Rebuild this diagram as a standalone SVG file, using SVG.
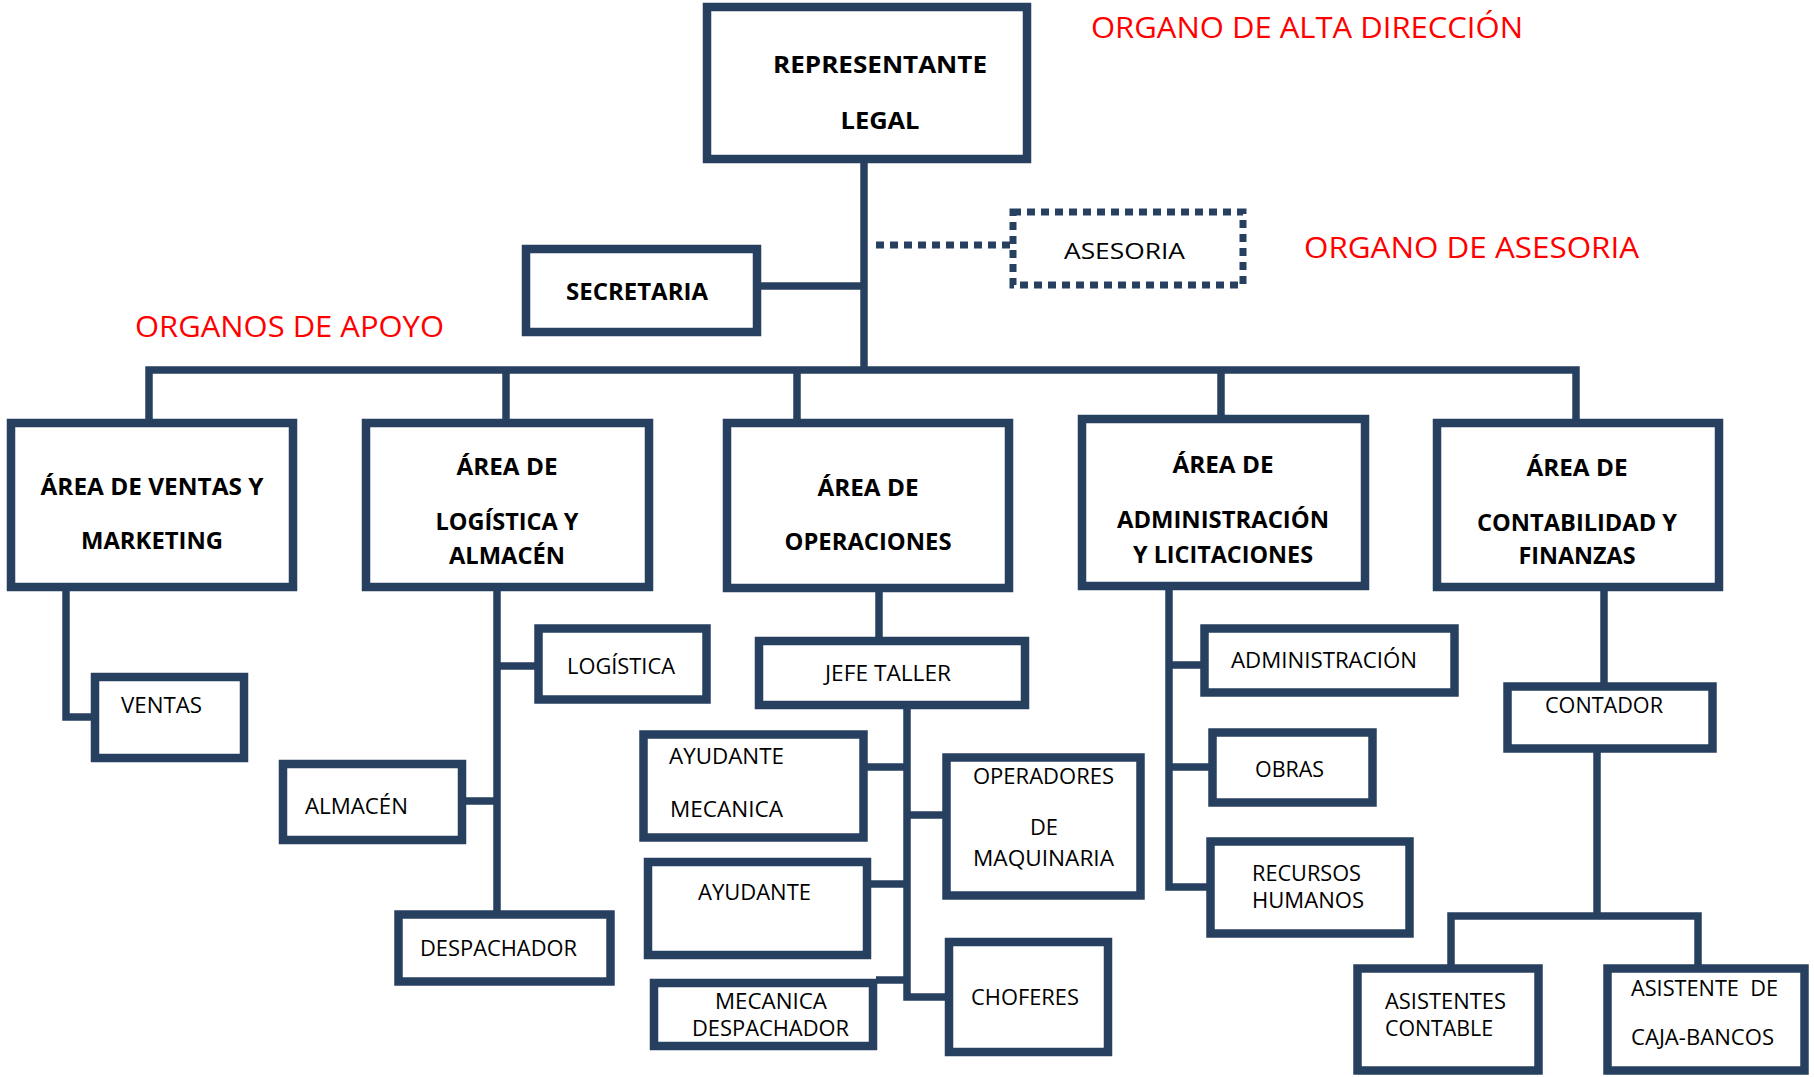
<svg xmlns="http://www.w3.org/2000/svg" width="1814" height="1077" viewBox="0 0 1814 1077">
<style>
.box{fill:#fff;stroke:#27405f;stroke-width:8.5}
.dbox{fill:#fff;stroke:#27405f;stroke-width:7;stroke-dasharray:8 6}
.c{fill:none;stroke:#27405f;stroke-width:7.5}
.d{fill:none;stroke:#27405f;stroke-width:7;stroke-dasharray:8 6}
.b{font-family:"Open Sans","Noto Sans",sans-serif;font-weight:bold;font-size:23px;fill:#000;text-anchor:middle}
.t{font-family:"Open Sans","Noto Sans",sans-serif;font-size:21px;fill:#000}
.r{font-family:"Open Sans","Noto Sans",sans-serif;font-size:29px;fill:#ff0000}
</style>
<rect width="1814" height="1077" fill="#fff"/>
<g id="connectors">
<path class="c" d="M864 163V370"/>
<path class="c" d="M761 286H864"/>
<path class="d" d="M876 245H1010"/>
<path class="c" d="M149 419V370H1576V419" stroke-width="10"/>
<path class="c" d="M506 370V419M797 370V419M1221 370V415"/>
<path class="c" d="M66 591V717H95"/>
<path class="c" d="M497 591V911M497 666H535M465 801H497"/>
<path class="c" d="M879 592V637"/>
<path class="c" d="M907 708V997H945M867 767H907M907 815H943M870 884H907M876 980H907"/>
<path class="c" d="M1169 590V887H1210M1169 665H1201M1169 767H1209"/>
<path class="c" d="M1604 591V683"/>
<path class="c" d="M1597 752V916"/>
<path class="c" d="M1451 965V916H1698V965"/>
</g>
<g id="labels">
<text class="r" x="1091" y="38" textLength="432" lengthAdjust="spacingAndGlyphs">ORGANO DE ALTA DIRECCIÓN</text>
<text class="r" x="1304" y="258" textLength="335" lengthAdjust="spacingAndGlyphs">ORGANO DE ASESORIA</text>
<text class="r" x="135" y="337" textLength="309" lengthAdjust="spacingAndGlyphs">ORGANOS DE APOYO</text>
</g>
<g id="representante">
<rect class="box" x="707" y="7" width="320" height="152"/>
<text class="b" x="880" y="73" textLength="214" lengthAdjust="spacingAndGlyphs">REPRESENTANTE</text>
<text class="b" x="880" y="129" textLength="79" lengthAdjust="spacingAndGlyphs">LEGAL</text>
</g>
<g id="asesoria">
<rect class="dbox" x="1013" y="212" width="230" height="73"/>
<text class="t" x="1064" y="259" textLength="121" lengthAdjust="spacingAndGlyphs">ASESORIA</text>
</g>
<g id="secretaria">
<rect class="box" x="526" y="249" width="231" height="83"/>
<text class="b" x="637" y="300" textLength="142" lengthAdjust="spacingAndGlyphs">SECRETARIA</text>
</g>
<g id="area-ventas">
<rect class="box" x="11" y="423" width="282" height="164"/>
<text class="b" x="152" y="495" textLength="223" lengthAdjust="spacingAndGlyphs">ÁREA DE VENTAS Y</text>
<text class="b" x="152" y="549" textLength="142" lengthAdjust="spacingAndGlyphs">MARKETING</text>
</g>
<g id="area-logistica">
<rect class="box" x="366" y="423" width="283" height="164"/>
<text class="b" x="507" y="475" textLength="101" lengthAdjust="spacingAndGlyphs">ÁREA DE</text>
<text class="b" x="507" y="530" textLength="143" lengthAdjust="spacingAndGlyphs">LOGÍSTICA Y</text>
<text class="b" x="507" y="564" textLength="116" lengthAdjust="spacingAndGlyphs">ALMACÉN</text>
</g>
<g id="area-operaciones">
<rect class="box" x="727" y="423" width="282" height="165"/>
<text class="b" x="868" y="496" textLength="101" lengthAdjust="spacingAndGlyphs">ÁREA DE</text>
<text class="b" x="868" y="550" textLength="167" lengthAdjust="spacingAndGlyphs">OPERACIONES</text>
</g>
<g id="area-administracion">
<rect class="box" x="1082" y="419" width="283" height="167"/>
<text class="b" x="1223" y="473" textLength="101" lengthAdjust="spacingAndGlyphs">ÁREA DE</text>
<text class="b" x="1223" y="528" textLength="212" lengthAdjust="spacingAndGlyphs">ADMINISTRACIÓN</text>
<text class="b" x="1223" y="563" textLength="180" lengthAdjust="spacingAndGlyphs">Y LICITACIONES</text>
</g>
<g id="area-contabilidad">
<rect class="box" x="1437" y="423" width="282" height="164"/>
<text class="b" x="1577" y="476" textLength="101" lengthAdjust="spacingAndGlyphs">ÁREA DE</text>
<text class="b" x="1577" y="531" textLength="200" lengthAdjust="spacingAndGlyphs">CONTABILIDAD Y</text>
<text class="b" x="1577" y="564" textLength="117" lengthAdjust="spacingAndGlyphs">FINANZAS</text>
</g>
<g id="ventas">
<rect class="box" x="95" y="677" width="149" height="81"/>
<text class="t" x="121" y="713" textLength="81" lengthAdjust="spacingAndGlyphs">VENTAS</text>
</g>
<g id="logistica">
<rect class="box" x="538.5" y="628.5" width="168" height="71"/>
<text class="t" x="567" y="674" textLength="108" lengthAdjust="spacingAndGlyphs">LOGÍSTICA</text>
</g>
<g id="almacen">
<rect class="box" x="283" y="764" width="179" height="76"/>
<text class="t" x="305" y="814" textLength="103" lengthAdjust="spacingAndGlyphs">ALMACÉN</text>
</g>
<g id="despachador">
<rect class="box" x="398.5" y="914.5" width="212" height="67"/>
<text class="t" x="420" y="956" textLength="157" lengthAdjust="spacingAndGlyphs">DESPACHADOR</text>
</g>
<g id="jefe-taller">
<rect class="box" x="759" y="641" width="266" height="64"/>
<text class="t" x="825" y="681" textLength="126" lengthAdjust="spacingAndGlyphs">JEFE TALLER</text>
</g>
<g id="ayudante-mecanica">
<rect class="box" x="643.5" y="734.5" width="220" height="103"/>
<text class="t" x="669" y="764" textLength="115" lengthAdjust="spacingAndGlyphs">AYUDANTE</text>
<text class="t" x="670" y="817" textLength="113" lengthAdjust="spacingAndGlyphs">MECANICA</text>
</g>
<g id="operadores">
<rect class="box" x="946.5" y="757.5" width="194" height="138"/>
<text class="t" x="973" y="784" textLength="141" lengthAdjust="spacingAndGlyphs">OPERADORES</text>
<text class="t" x="1030" y="835" textLength="28" lengthAdjust="spacingAndGlyphs">DE</text>
<text class="t" x="973" y="866" textLength="141" lengthAdjust="spacingAndGlyphs">MAQUINARIA</text>
</g>
<g id="ayudante">
<rect class="box" x="648" y="862" width="219" height="93"/>
<text class="t" x="698" y="900" textLength="113" lengthAdjust="spacingAndGlyphs">AYUDANTE</text>
</g>
<g id="mecanica-despachador">
<rect class="box" x="654" y="983" width="219" height="63"/>
<text class="t" x="715" y="1009" textLength="112" lengthAdjust="spacingAndGlyphs">MECANICA</text>
<text class="t" x="692" y="1036" textLength="157" lengthAdjust="spacingAndGlyphs">DESPACHADOR</text>
</g>
<g id="choferes">
<rect class="box" x="949" y="942" width="159" height="110"/>
<text class="t" x="971" y="1005" textLength="108" lengthAdjust="spacingAndGlyphs">CHOFERES</text>
</g>
<g id="administracion">
<rect class="box" x="1204.5" y="628.5" width="250" height="64"/>
<text class="t" x="1231" y="668" textLength="186" lengthAdjust="spacingAndGlyphs">ADMINISTRACIÓN</text>
</g>
<g id="obras">
<rect class="box" x="1212.5" y="732.5" width="160" height="70"/>
<text class="t" x="1255" y="777" textLength="69" lengthAdjust="spacingAndGlyphs">OBRAS</text>
</g>
<g id="recursos-humanos">
<rect class="box" x="1210.5" y="841.5" width="199" height="92"/>
<text class="t" x="1252" y="881" textLength="109" lengthAdjust="spacingAndGlyphs">RECURSOS</text>
<text class="t" x="1252" y="908" textLength="112" lengthAdjust="spacingAndGlyphs">HUMANOS</text>
</g>
<g id="contador">
<rect class="box" x="1507.5" y="686.5" width="205" height="62"/>
<text class="t" x="1545" y="713" textLength="118" lengthAdjust="spacingAndGlyphs">CONTADOR</text>
</g>
<g id="asistentes-contable">
<rect class="box" x="1357.5" y="968.5" width="181" height="102"/>
<text class="t" x="1385" y="1009" textLength="121" lengthAdjust="spacingAndGlyphs">ASISTENTES</text>
<text class="t" x="1385" y="1036" textLength="108" lengthAdjust="spacingAndGlyphs">CONTABLE</text>
</g>
<g id="asistente-caja">
<rect class="box" x="1607.5" y="968.5" width="197" height="102"/>
<text class="t" x="1631" y="996" textLength="147" lengthAdjust="spacingAndGlyphs" xml:space="preserve">ASISTENTE  DE</text>
<text class="t" x="1631" y="1045" textLength="143" lengthAdjust="spacingAndGlyphs">CAJA-BANCOS</text>
</g>
</svg>
